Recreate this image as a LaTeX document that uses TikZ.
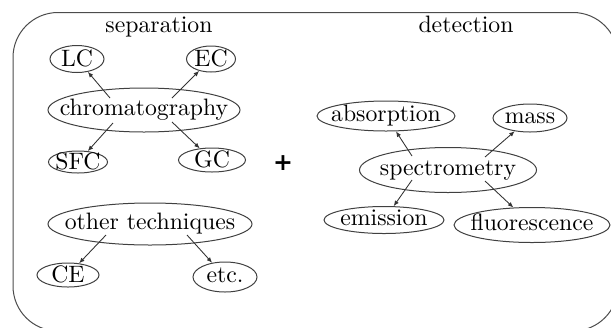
\documentclass[tikz,border=0pt]{standalone}
\usepackage{fontspec}
\newfontfamily\plusfont{DejaVu Sans}
\usetikzlibrary{shapes.geometric,arrows.meta}
\newcommand\Ctext[1]{\makebox[0pt]{\raisebox{-0.5ex}[0pt][0pt]{#1}}}
\newcommand\Ccaps[1]{\makebox[0pt]{\raisebox{-0.78ex}[0pt][0pt]{#1}}}
\begin{document}
\begin{tikzpicture}[x=0.4pt,y=-0.4pt,
  txt/.style={font=\fontsize{9.5}{11}\selectfont, inner sep=0},
  ell/.style={ellipse, draw=black!75, line width=0.4pt, inner sep=0,
    font=\fontsize{9.5}{11}\selectfont},
  arr/.style={draw=black!80, line width=0.35pt, -{Latex[length=2.2pt,width=1.8pt]}},
  frame/.style={draw=black!70, line width=0.4pt, rounded corners=18pt}]
\useasboundingbox (0,0) rectangle (611,327);
\clip (0,0) rectangle (611,327);
\draw[frame] (13,12.5) rectangle (618,331);

\node[txt] (sep) at (159,27) {\Ctext{separation}};
\node[txt] (det) at (466,27) {\Ctext{detection}};

\node[ell, minimum width=21.6pt, minimum height=10.8pt] (LC) at (77,59) {\Ccaps{LC}};
\node[ell, minimum width=19.6pt, minimum height=10.4pt] (EC) at (211,59) {\Ccaps{EC}};
\node[ell, minimum width=76.8pt, minimum height=17.6pt] (chrom) at (144,110) {\Ctext{chromatography}};
\node[ell, minimum width=23.6pt, minimum height=8.8pt] (SFC) at (78,162) {\Ccaps{SFC}};
\node[ell, minimum width=26.8pt, minimum height=9.6pt] (GC) at (212,160) {\Ccaps{GC}};
\node[ell, minimum width=81.6pt, minimum height=16.8pt] (other) at (150,224) {\Ctext{other techniques}};
\node[ell, minimum width=24.8pt, minimum height=9.6pt] (CE) at (68,275) {\Ccaps{CE}};
\node[ell, minimum width=25.6pt, minimum height=12pt] (etc) at (225,277) {\Ctext{etc.}};

\node[inner sep=0, font=\fontsize{9.5}{11}\selectfont\plusfont\bfseries] (plus) at (283,163) {+};

\node[ell, minimum width=55.2pt, minimum height=12pt] (abs) at (386,116) {\Ctext{absorption}};
\node[ell, minimum width=29.6pt, minimum height=11.2pt] (mass) at (530,118) {\Ctext{mass}};
\node[ell, minimum width=70.8pt, minimum height=18pt] (spec) at (448,170) {\Ctext{spectrometry}};
\node[ell, minimum width=48pt, minimum height=10.8pt] (emi) at (384,220) {\Ctext{emission}};
\node[ell, minimum width=62.4pt, minimum height=14pt] (flu) at (532,225) {\Ctext{fluorescence}};

\draw[arr] ([shift={(-34,-12)}]chrom.center) -- (LC);
\draw[arr] ([shift={(28,-12)}]chrom.center) -- (EC);
\draw[arr] ([shift={(-31,13)}]chrom.center) -- (SFC);
\draw[arr] ([shift={(28,12)}]chrom.center) -- (GC);
\draw[arr] ([shift={(-44,11)}]other.center) -- (CE);
\draw[arr] ([shift={(37,11)}]other.center) -- (etc);
\draw[arr] ([shift={(-36,-14)}]spec.center) -- (abs);
\draw[arr] ([shift={(37,-13)}]spec.center) -- (mass);
\draw[arr] ([shift={(-36,10)}]spec.center) -- (emi);
\draw[arr] ([shift={(37,11)}]spec.center) -- (flu);
\end{tikzpicture}
\end{document}
